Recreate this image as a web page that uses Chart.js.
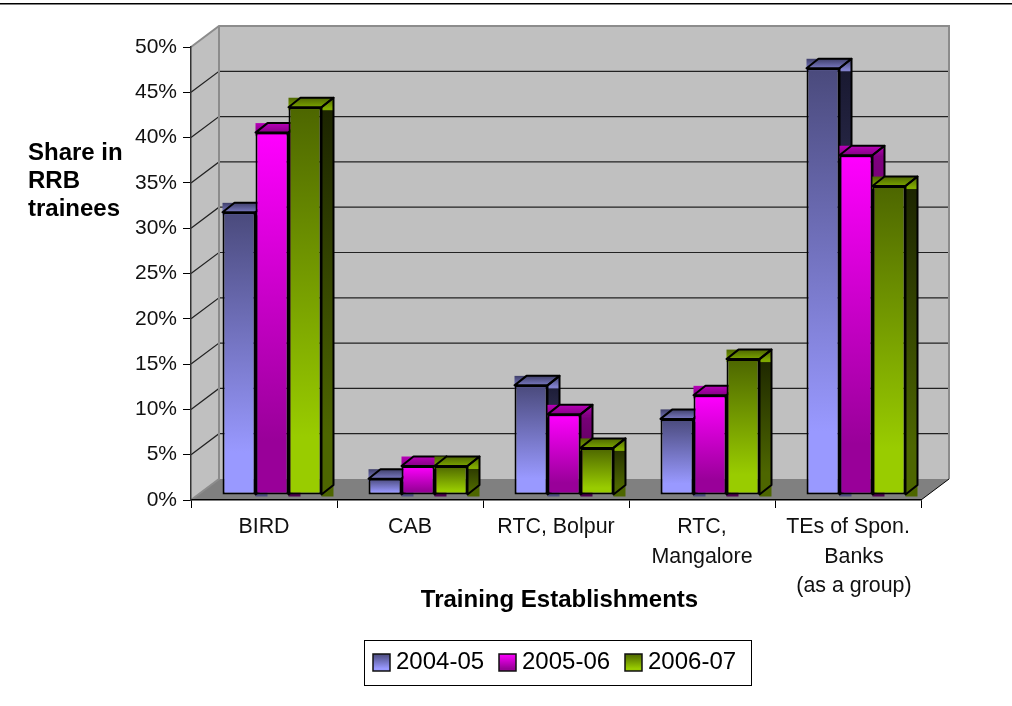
<!DOCTYPE html>
<html>
<head>
<meta charset="utf-8">
<title>Share in RRB trainees</title>
<script src="https://cdn.jsdelivr.net/npm/chart.js@4"></script>
<style>
  body { margin: 0; background: #fff; }
  canvas { display: block; }
</style>
</head>
<body>
<canvas id="chart" width="1012" height="706"></canvas>
<script>
const categories = ['BIRD', 'CAB', 'RTC, Bolpur', ['RTC,', 'Mangalore'], ['TEs of Spon.', '  Banks', '  (as a group)']];
const years = ['2004-05', '2005-06', '2006-07'];
const share0405 = [31.2, 1.8, 12.1, 8.4, 47.1];
const share0506 = [40.0, 3.2, 8.9, 11.0, 37.5];
const share0607 = [42.8, 3.2, 5.2, 15.0, 34.1];
const yTitleLines = ['Share in', 'RRB', 'trainees'];
const xTitle = 'Training Establishments';

const FONT = '"Liberation Sans", Arial, sans-serif';

// front / side / top shades per series, [upper, lower]
const shades = [
  { front: ['#4a4a7c', '#9999ff'], side: ['#17172e', '#4d4d80'], top: ['#3f3f6a', '#8080cc'] },
  { front: ['#ff00ff', '#990099'], side: ['#800080', '#4d004d'], top: ['#b800b8', '#800080'] },
  { front: ['#4d6600', '#99cc00'], side: ['#1a2200', '#4d6600'], top: ['#4d6600', '#80aa00'] }
];

const WALL_DX = 28, WALL_DY = -21;   // box depth
const BAR_DX = 12, BAR_DY = -9.5;    // bar depth
const SHIFT_X = 8, SHIFT_Y = -5;     // bars stand a little way back from the front edge

function vGrad(ctx, y0, y1, pair) {
  const g = ctx.createLinearGradient(0, y0, 0, y1);
  g.addColorStop(0, pair[0]);
  g.addColorStop(0.85, pair[1]);
  g.addColorStop(1, pair[1]);
  return g;
}

function poly(ctx, pts) {
  ctx.beginPath();
  pts.forEach((p, i) => i ? ctx.lineTo(p[0], p[1]) : ctx.moveTo(p[0], p[1]));
  ctx.closePath();
}

// side and top of a bar, these go underneath the front face
function drawBarDepth(ctx, bar, shade) {
  const l = bar.x - bar.width / 2, r = bar.x + bar.width / 2;
  const t = bar.y, b = bar.base;

  ctx.fillStyle = vGrad(ctx, t + BAR_DY, b, shade.side);
  ctx.fillRect(r, t + BAR_DY, BAR_DX, b - t - BAR_DY + 2);
  ctx.fillStyle = vGrad(ctx, t + BAR_DY, t + 3, shade.top);
  ctx.fillRect(l, t + BAR_DY, r - l + BAR_DX, 3 - BAR_DY);

  ctx.strokeStyle = '#000';
  ctx.lineWidth = 2;
  ctx.lineJoin = 'round';
  poly(ctx, [[l, t], [l + BAR_DX, t + BAR_DY], [r + BAR_DX, t + BAR_DY], [r, t]]);
  ctx.stroke();
  poly(ctx, [[r, t], [r + BAR_DX, t + BAR_DY], [r + BAR_DX, b + BAR_DY], [r, b]]);
  ctx.stroke();
}

const boxPlugin = {
  id: 'box',
  beforeDraw(chart) {
    const { ctx, chartArea: a, scales } = chart;
    const bx = a.left + WALL_DX, tx = a.right + WALL_DX;
    const by = a.bottom + WALL_DY, ty = a.top + WALL_DY;
    ctx.save();

    // rule above the chart
    ctx.fillStyle = '#000';
    ctx.fillRect(0, 3, 1012, 1.5);

    ctx.fillStyle = '#c0c0c0';
    ctx.fillRect(bx, ty, tx - bx, by - ty);
    poly(ctx, [[a.left, a.top], [bx, ty], [bx, by], [a.left, a.bottom]]);
    ctx.fill();
    ctx.fillStyle = '#808080';
    poly(ctx, [[a.left, a.bottom], [bx, by], [tx, by], [a.right, a.bottom]]);
    ctx.fill();

    // grid lines run across the left wall and the back wall
    ctx.strokeStyle = '#222';
    ctx.lineWidth = 1.2;
    scales.y.ticks.forEach(t => {
      if (t.value === 0 || t.value === 50) return;
      const y = scales.y.getPixelForValue(t.value);
      ctx.beginPath();
      ctx.moveTo(a.left, y);
      ctx.lineTo(bx, y + WALL_DY);
      ctx.lineTo(tx, y + WALL_DY);
      ctx.stroke();
    });

    ctx.strokeStyle = '#8c8c8c';
    ctx.lineWidth = 2;
    ctx.beginPath();
    ctx.moveTo(a.left, a.top);
    ctx.lineTo(bx, ty);
    ctx.lineTo(tx, ty);
    ctx.lineTo(tx, by);
    ctx.moveTo(bx, ty);
    ctx.lineTo(bx, by);
    ctx.lineTo(a.left, a.bottom);
    ctx.stroke();

    ctx.strokeStyle = '#000';
    ctx.lineWidth = 1;
    ctx.beginPath();
    ctx.moveTo(a.right, a.bottom);
    ctx.lineTo(tx, by);
    ctx.stroke();
    ctx.restore();
  },
  // left series first so each bar's front covers its left neighbour's side
  beforeDatasetsDraw(chart) {
    const ctx = chart.ctx;
    ctx.save();
    ctx.translate(SHIFT_X, SHIFT_Y);
    chart.data.datasets.forEach((ds, i) => {
      const meta = chart.getDatasetMeta(i);
      meta.data.forEach(bar => drawBarDepth(ctx, bar, shades[i]));
      meta.controller.draw();
    });
    ctx.restore();
    return false;
  },
  afterDraw(chart) {
    const ctx = chart.ctx;
    ctx.save();
    ctx.fillStyle = '#000';
    ctx.textBaseline = 'alphabetic';

    // axis titles
    ctx.font = 'bold 24px ' + FONT;
    ctx.textAlign = 'left';
    yTitleLines.forEach((line, i) => ctx.fillText(line, 28, 159.5 + i * 28));
    ctx.textAlign = 'center';
    ctx.fillText(xTitle, 559.5, 607);

    // legend
    ctx.strokeStyle = '#000';
    ctx.lineWidth = 1;
    ctx.strokeRect(364.5, 640.5, 387, 45);
    ctx.font = '24px ' + FONT;
    ctx.textAlign = 'left';
    let x = 373;
    years.forEach((year, i) => {
      ctx.fillStyle = vGrad(ctx, 654, 671, shades[i].front);
      ctx.fillRect(x, 654, 17, 17);
      ctx.strokeStyle = '#111';
      ctx.lineWidth = 1.5;
      ctx.strokeRect(x, 654, 17, 17);
      ctx.fillStyle = '#000';
      ctx.fillText(year, x + 23, 669);
      x += 126;
    });
    ctx.restore();
  }
};

function frontFace(seriesIndex) {
  return function (c) {
    const y = c.chart.scales.y;
    const pair = shades[seriesIndex].front;
    if (!y || !c.parsed) return pair[1];
    const y0 = y.getPixelForValue(c.parsed.y), y1 = y.getPixelForValue(0);
    if (!isFinite(y0) || !isFinite(y1)) return pair[1];
    return vGrad(c.chart.ctx, y0, y1, pair);
  };
}

new Chart(document.getElementById('chart'), {
  type: 'bar',
  data: {
    labels: categories,
    datasets: [share0405, share0506, share0607].map((values, i) => ({
      label: years[i],
      data: values,
      backgroundColor: frontFace(i),
      borderColor: '#000',
      borderWidth: 2,
      borderSkipped: false,
      categoryPercentage: 0.678,
      barPercentage: 1
    }))
  },
  options: {
    responsive: false,
    animation: false,
    layout: { padding: { top: 47, right: 91, left: 0, bottom: 0 } },
    plugins: { legend: { display: false }, title: { display: false }, tooltip: { enabled: false } },
    scales: {
      x: {
        afterFit(scale) { scale.height = 206; },
        grid: { drawOnChartArea: false, drawTicks: true, tickLength: 8, color: '#000', offset: true },
        border: { display: true, color: '#000', width: 1.5 },
        ticks: {
          color: '#111',
          font: { family: FONT, size: 21.4, lineHeight: 1.36 },
          maxRotation: 0,
          minRotation: 0,
          autoSkip: false,
          padding: 5
        }
      },
      y: {
        min: 0,
        max: 50,
        afterFit(scale) { scale.width = 191; },
        grid: { drawOnChartArea: false, drawTicks: true, tickLength: 8, color: '#000' },
        border: { display: true, color: '#333', width: 1.5 },
        ticks: {
          stepSize: 5,
          color: '#111',
          font: { family: FONT, size: 21 },
          padding: 6,
          callback: v => v + '%'
        }
      }
    }
  },
  plugins: [boxPlugin]
});
</script>
</body>
</html>
